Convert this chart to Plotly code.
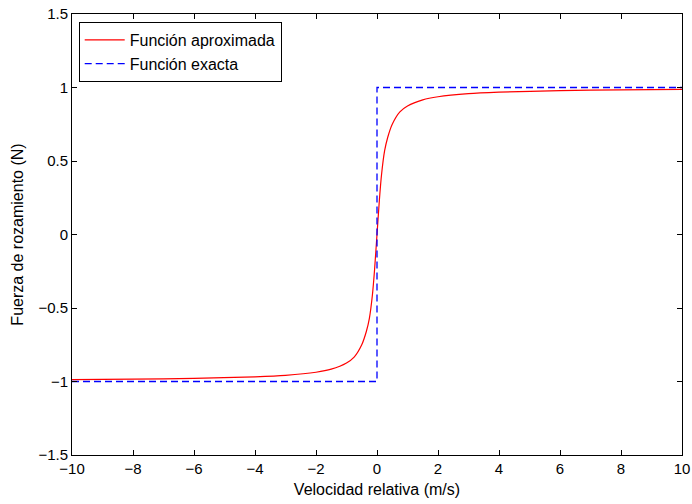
import plotly.graph_objects as go

# Approximated friction curve
v_approx = [-10, -8, -6, -4, -3, -2, -1.5, -1, -0.75, -0.5, -0.35, -0.25, -0.15, -0.08, 0,
            0.08, 0.15, 0.25, 0.35, 0.5, 0.75, 1, 1.5, 2, 3, 4, 6, 8, 10]
f_approx = [-0.987, -0.984, -0.979, -0.968, -0.958, -0.937, -0.916, -0.874, -0.834, -0.75, -0.66, -0.57, -0.41, -0.24, 0,
            0.24, 0.41, 0.57, 0.66, 0.75, 0.834, 0.874, 0.916, 0.937, 0.958, 0.968, 0.979, 0.984, 0.987]

# Exact (sign) function
v_exact = [-10, 0, 0, 10]
f_exact = [-1, -1, 1, 1]

x_ticks = [-10, -8, -6, -4, -2, 0, 2, 4, 6, 8, 10]
x_tick_labels = ["\u221210", "\u22128", "\u22126", "\u22124", "\u22122", "0", "2", "4", "6", "8", "10"]
y_ticks = [-1.5, -1, -0.5, 0, 0.5, 1, 1.5]
y_tick_labels = ["\u22121.5", "\u22121", "\u22120.5", "0", "0.5", "1", "1.5"]

FONT = "Liberation Sans, Arial, Helvetica, sans-serif"

fig = go.Figure()
fig.add_trace(go.Scatter(x=v_approx, y=f_approx, mode="lines", name="Función aproximada",
                         line=dict(color="#ff0000", width=1.2, shape="spline", smoothing=0.6)))
fig.add_trace(go.Scatter(x=v_exact, y=f_exact, mode="lines", name="Función exacta",
                         line=dict(color="#0000ff", width=1.3, dash="7px,4px")))

axis_common = dict(showgrid=False, zeroline=False, showline=True, linecolor="black", linewidth=1,
                   mirror="ticks", ticks="inside", ticklen=5, tickcolor="black", automargin=False,
                   tickfont=dict(family=FONT, size=15, color="black"))

fig.update_xaxes(range=[-10, 10], tickvals=x_ticks, ticktext=x_tick_labels,
                 title=dict(text="Velocidad relativa (m/s)", standoff=7,
                            font=dict(family=FONT, size=16, color="black")),
                 **axis_common)
fig.update_yaxes(range=[-1.5, 1.5], tickvals=y_ticks, ticktext=y_tick_labels,
                 title=dict(text="Fuerza de rozamiento (N)", standoff=10,
                            font=dict(family=FONT, size=16, color="black")),
                 **axis_common)

fig.update_layout(
    width=692, height=504,
    margin=dict(l=72, r=10, t=14, b=49),
    plot_bgcolor="white", paper_bgcolor="white",
    legend=dict(x=0.011, y=0.982, xanchor="left", yanchor="top",
                bordercolor="black", borderwidth=1, bgcolor="white",
                font=dict(family=FONT, size=16, color="black"),
                tracegroupgap=0, itemwidth=40),
    showlegend=True,
)

fig.write_html("out.html", config={"displayModeBar": False},
               post_script="document.body.style.margin='0';document.body.style.padding='0';")
